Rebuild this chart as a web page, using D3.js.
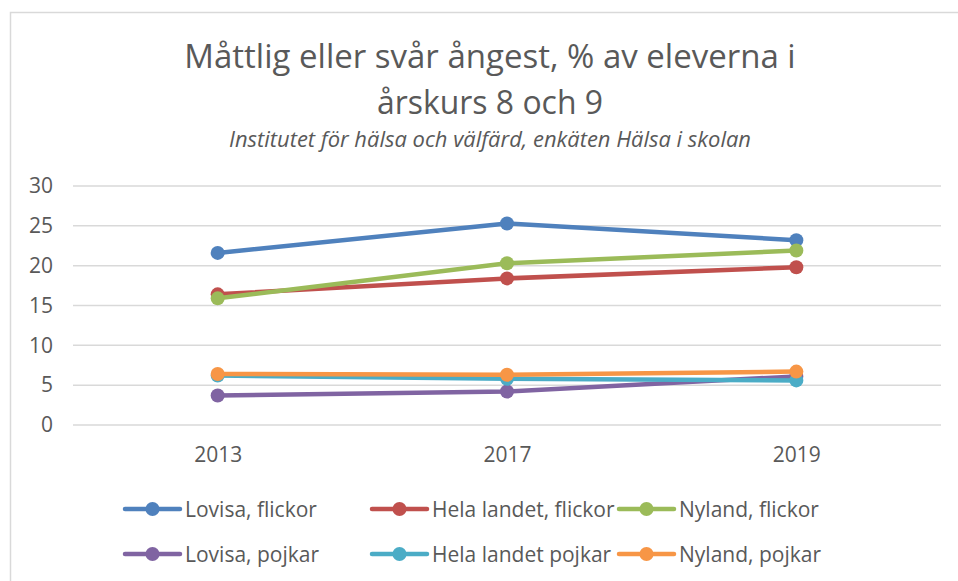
<!DOCTYPE html>
<html lang="sv">
<head>
    <meta charset="utf-8">
    <script src="https://d3js.org/d3.v7.min.js"></script>
    <style>
        body { margin: 0; background: #fff; }
        svg text { font-family: "Open Sans", sans-serif; fill: #595959; }
    </style>
</head>
<body>
    <div id="chart"></div>
    <script>
        // data
        const years = ["2013", "2017", "2019"];
        const seriesNames = ["Lovisa, flickor", "Hela landet, flickor", "Nyland, flickor",
            "Lovisa, pojkar", "Hela landet pojkar", "Nyland, pojkar"];
        const lovisaFlickor = [21.6, 25.3, 23.2];
        const helaLandetFlickor = [16.4, 18.4, 19.8];
        const nylandFlickor = [15.9, 20.3, 21.9];
        const lovisaPojkar = [3.7, 4.2, 6.1];
        const helaLandetPojkar = [6.2, 5.8, 5.6];
        const nylandPojkar = [6.4, 6.3, 6.7];
        const yTicks = [0, 5, 10, 15, 20, 25, 30];
        const colors = ["#4F81BD", "#C0504D", "#9BBB59", "#8064A2", "#4BACC6", "#F79646"];

        const allValues = [lovisaFlickor, helaLandetFlickor, nylandFlickor,
            lovisaPojkar, helaLandetPojkar, nylandPojkar];
        const series = seriesNames.map((name, i) => ({
            name: name,
            color: colors[i],
            values: years.map((y, j) => ({ year: y, value: allValues[i][j] }))
        }));

        const width = 958, height = 581;
        const plot = { left: 73, right: 941, top: 186, bottom: 425 };

        const svg = d3.select("#chart")
            .append("svg")
            .attr("width", width)
            .attr("height", height);

        // chart frame
        svg.append("rect")
            .attr("x", 10.5).attr("y", 12.5)
            .attr("width", 980).attr("height", 600)
            .attr("fill", "none")
            .attr("stroke", "#D9D9D9")
            .attr("stroke-width", 1.5);

        // titles
        const cx = 490;
        function fitText(sel, maxW) {
            const w = sel.node().getComputedTextLength();
            if (w > maxW) sel.attr("textLength", maxW).attr("lengthAdjust", "spacingAndGlyphs");
        }
        const t1 = svg.append("text")
            .attr("x", cx).attr("y", 68)
            .attr("text-anchor", "middle")
            .style("font-size", "33px")
            .text("Måttlig eller svår ångest, % av eleverna i");
        fitText(t1, 612);
        const t2 = svg.append("text")
            .attr("x", cx).attr("y", 114)
            .attr("text-anchor", "middle")
            .style("font-size", "33px")
            .text("årskurs 8 och 9");
        fitText(t2, 226);
        const sub = svg.append("text")
            .attr("x", cx).attr("y", 147)
            .attr("text-anchor", "middle")
            .style("font-size", "22px")
            .style("font-style", "italic")
            .text("Institutet för hälsa och välfärd, enkäten Hälsa i skolan");
        fitText(sub, 522);

        // scales
        const x = d3.scalePoint()
            .domain(years)
            .range([plot.left, plot.right])
            .padding(0.5);
        const y = d3.scaleLinear()
            .domain([0, 30])
            .range([plot.bottom, plot.top]);

        // gridlines
        svg.append("g")
            .selectAll("line")
            .data(yTicks)
            .join("line")
            .attr("x1", plot.left).attr("x2", plot.right)
            .attr("y1", d => y(d)).attr("y2", d => y(d))
            .attr("stroke", "#D9D9D9")
            .attr("stroke-width", 1.5);

        // y axis labels
        const yAxis = svg.append("g")
            .attr("transform", `translate(${plot.left - 20}, 0)`)
            .call(d3.axisLeft(y).tickValues(yTicks).tickSize(0).tickPadding(0));
        yAxis.select(".domain").remove();
        yAxis.selectAll("text")
            .style("font-size", "21px")
            .style("font-family", "'Open Sans', sans-serif")
            .attr("fill", "#595959");

        // x axis labels
        const xAxis = svg.append("g")
            .attr("transform", `translate(0, ${plot.bottom + 22})`)
            .call(d3.axisBottom(x).tickSize(0).tickPadding(0));
        xAxis.select(".domain").remove();
        xAxis.selectAll("text")
            .style("font-size", "21px")
            .style("font-family", "'Open Sans', sans-serif")
            .attr("fill", "#595959");

        // lines and markers
        const line = d3.line()
            .x(d => x(d.year))
            .y(d => y(d.value));

        const groups = svg.append("g")
            .selectAll("g")
            .data(series)
            .join("g");

        groups.append("path")
            .attr("d", d => line(d.values))
            .attr("fill", "none")
            .attr("stroke", d => d.color)
            .attr("stroke-width", 4.5)
            .attr("stroke-linejoin", "round")
            .attr("stroke-linecap", "round");

        groups.selectAll("circle")
            .data(d => d.values.map(v => ({ ...v, color: d.color })))
            .join("circle")
            .attr("cx", d => x(d.year))
            .attr("cy", d => y(d.value))
            .attr("r", 7)
            .attr("fill", d => d.color);

        // legend: 3 columns, 2 rows
        const legend = svg.append("g");
        const colStep = 247, col0 = 125, row0 = 509, rowStep = 45;
        const items = legend.selectAll("g")
            .data(series)
            .join("g")
            .attr("transform", (d, i) => `translate(${col0 + (i % 3) * colStep}, ${row0 + Math.floor(i / 3) * rowStep})`);

        items.append("line")
            .attr("x1", 0).attr("x2", 55)
            .attr("stroke", d => d.color)
            .attr("stroke-width", 4.5)
            .attr("stroke-linecap", "round");
        items.append("circle")
            .attr("cx", 27.5).attr("cy", 0)
            .attr("r", 7)
            .attr("fill", d => d.color);
        items.append("text")
            .attr("x", 60)
            .attr("y", 7.5)
            .style("font-size", "21px")
            .text(d => d.name);
    </script>
</body>
</html>
